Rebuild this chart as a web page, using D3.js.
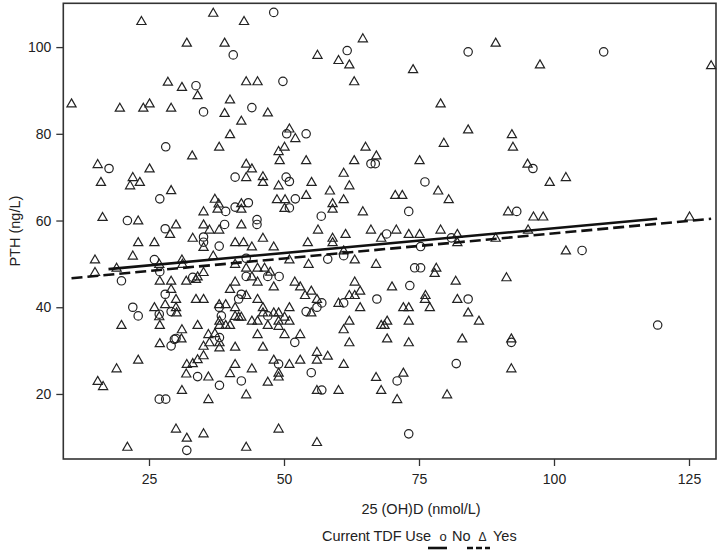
<!DOCTYPE html>
<html><head><meta charset="utf-8">
<script src="https://cdn.jsdelivr.net/npm/d3@7"></script>
<style>
body{margin:0;background:#fff;}
text{font-family:"Liberation Sans",Arial,Helvetica,sans-serif;fill:#222;}
</style></head>
<body><svg id="c" width="720" height="554"></svg>
<script>
const xTicks=[25,50,75,100,125];
const yTicks=[20,40,60,80,100];
const xDomain=[9.13,130.0];
const yDomain=[5.0,110.1];
const xTitle="25 (OH)D (nmol/L)";
const yTitle="PTH (ng/L)";
const legendTitle="Current TDF Use";
const seriesNames=["No","Yes"];
// Current TDF use = No (circles)
const noPoints=[[33.7,91.1],[35.1,85.05],[28.1,77.0],[17.6,72.0],[27.0,65.0],[39.2,62.1],[21.0,60.0],[39.0,59.1],[28.0,58.1],[35.1,56.2],[35.1,55.0],[38.0,54.1],
[48.1,108.0],[40.6,98.2],[61.7,99.2],[49.8,92.1],[44.05,86.05],[50.5,80.0],[54.1,80.0],[66.1,73.1],[66.9,73.1],[40.95,70.0],[50.4,70.0],[51.0,69.0],[52.1,65.0],[40.95,63.1],[43.4,64.1],[51.0,62.9],[45.0,60.2],[45.0,59.1],[56.9,61.0],[69.0,56.9],
[84.1,98.9],[96.1,72.0],[76.1,68.9],[73.1,62.1],[93.1,62.1],[81.0,56.0],[75.3,54.0],
[109.2,98.9],
[26.0,51.0],[19.9,46.1],[27.0,48.2],[33.1,46.9],[28.0,43.0],[22.0,40.0],[23.0,38.0],[26.9,38.4],[29.1,39.0],[38.0,40.0],[38.4,38.0],[30.0,32.8],[29.7,32.6],[38.05,33.0],[29.1,31.1],[34.0,24.0],[38.05,22.0],[26.9,18.8],[28.1,18.8],[32.0,7.0],
[43.0,51.3],[58.1,51.1],[61.05,51.9],[43.0,47.1],[47.0,47.1],[49.1,47.1],[57.0,41.0],[56.1,40.0],[54.1,39.0],[42.1,43.0],[41.6,41.9],[47.0,38.0],[52.0,31.9],[61.05,41.0],[67.2,41.9],[49.0,26.9],[42.1,23.0],[55.05,24.9],[57.0,20.9],
[74.2,49.1],[75.3,49.1],[73.3,45.0],[84.1,41.9],[92.1,31.9],[81.9,27.0],[70.95,23.0],[73.1,10.8],
[105.2,53.1],[119.2,35.9]];
// Current TDF use = Yes (triangles)
const yesPoints=[[36.9,107.9],[23.6,106.0],[32.0,101.0],[39.0,101.0],[28.5,92.0],[31.1,90.8],[34.0,88.9],[10.65,87.0],[19.6,86.0],[23.95,86.0],[25.1,87.0],[29.1,86.0],[39.0,84.8],[38.0,77.0],[33.0,75.0],[15.5,73.0],[25.1,72.0],[16.1,68.9],[22.0,70.0],[21.5,68.1],[23.3,68.9],[29.1,67.0],[37.2,65.0],[37.9,63.9],[37.7,62.7],[35.1,62.1],[16.4,60.8],[23.0,60.0],[35.1,59.1],[30.0,59.1],[28.9,56.9],[36.2,57.9],[38.0,57.9],[23.0,55.0],[26.0,55.0],[33.1,56.0],[35.1,53.9],
[42.6,106.0],[64.6,102.0],[56.2,98.2],[60.1,97.0],[62.1,96.0],[43.0,92.1],[45.1,92.1],[63.0,92.1],[40.0,87.9],[47.0,84.9],[42.1,83.0],[40.0,79.9],[51.0,81.2],[52.1,79.0],[49.0,76.0],[50.1,77.0],[49.2,73.9],[54.1,73.9],[65.1,77.0],[67.1,75.0],[63.0,73.9],[43.0,73.1],[44.05,72.0],[43.0,70.0],[46.1,70.2],[46.1,68.9],[49.0,68.1],[55.1,68.9],[61.05,71.0],[62.1,68.1],[58.5,66.9],[54.1,65.9],[48.7,64.9],[50.2,64.9],[61.05,64.9],[59.0,64.0],[59.0,62.7],[42.1,64.0],[42.1,62.7],[50.1,62.9],[42.1,59.1],[64.6,62.1],[56.3,57.9],[61.4,56.9],[66.1,57.9],[68.0,56.0],[46.1,56.0],[40.95,55.0],[42.5,55.0],[44.05,54.0],[48.1,54.0],[54.4,55.0],[59.0,56.0],[59.0,55.0],
[89.2,101.0],[73.9,94.9],[97.4,96.0],[79.0,87.0],[84.1,81.0],[92.2,79.9],[92.4,77.0],[79.6,77.9],[75.1,73.9],[95.1,73.1],[99.2,68.9],[78.55,66.9],[80.5,64.9],[70.6,65.9],[71.9,65.9],[91.5,62.1],[96.2,60.9],[98.0,60.9],[70.8,57.9],[73.1,56.9],[75.1,56.9],[79.0,57.9],[82.1,56.9],[82.1,55.0],[89.2,56.0],[95.2,57.9],
[129.1,95.8],[102.2,70.0],[125.1,60.9],
[15.0,51.0],[22.0,51.9],[26.9,50.0],[31.1,51.0],[31.2,50.0],[36.9,51.9],[15.0,48.1],[19.0,49.1],[27.0,46.1],[29.1,46.1],[31.9,46.1],[33.7,46.5],[34.0,47.1],[35.1,48.1],[29.1,44.2],[30.0,41.9],[33.7,41.9],[35.1,41.9],[26.0,40.0],[28.0,40.7],[26.9,37.9],[30.0,40.0],[30.1,38.8],[38.0,40.7],[39.2,40.7],[19.9,35.9],[27.0,35.9],[34.0,35.9],[38.05,36.9],[38.05,35.9],[39.2,35.9],[31.1,34.9],[36.0,33.8],[37.2,34.0],[31.0,32.8],[38.05,31.9],[27.0,31.7],[35.1,31.1],[36.2,31.9],[38.05,30.7],[35.1,28.9],[34.0,28.0],[23.0,27.9],[32.0,26.9],[33.1,27.1],[19.0,25.9],[31.9,24.7],[36.0,24.0],[15.5,23.0],[16.5,21.8],[31.1,20.9],[36.0,18.8],[30.0,12.0],[32.0,9.9],[35.1,10.9],[21.0,7.8],
[61.05,53.1],[63.1,51.0],[67.05,50.0],[54.55,50.0],[51.0,51.0],[40.95,50.0],[43.0,49.1],[45.1,49.1],[46.4,49.1],[47.45,48.2],[44.05,47.1],[45.1,45.9],[40.95,45.9],[40.0,44.2],[48.1,44.8],[52.0,45.9],[53.0,44.8],[55.05,43.8],[53.9,42.8],[56.1,41.9],[55.05,38.8],[43.0,42.8],[45.1,41.9],[40.95,40.0],[46.1,40.0],[51.0,40.0],[46.1,38.8],[48.1,38.8],[49.0,38.8],[50.1,37.8],[51.0,36.9],[40.95,38.0],[41.6,37.8],[42.1,37.8],[44.05,36.9],[45.1,36.9],[47.0,35.9],[49.0,36.9],[49.0,35.7],[40.0,35.9],[50.1,33.8],[53.0,33.8],[45.1,33.8],[46.1,30.9],[40.95,30.9],[60.1,41.0],[62.1,42.8],[63.1,42.8],[64.1,43.8],[63.1,45.9],[64.1,40.0],[70.0,44.8],[62.1,36.9],[61.05,34.9],[62.1,31.9],[68.0,35.9],[68.6,35.9],[69.1,36.9],[69.1,32.8],[56.1,29.7],[58.1,28.8],[56.1,27.9],[53.0,27.9],[51.0,26.9],[48.1,27.9],[49.0,24.9],[49.0,24.0],[47.0,22.8],[44.05,25.9],[40.95,26.9],[40.0,24.8],[43.0,19.9],[61.05,26.9],[56.1,20.9],[60.1,20.9],[67.05,23.9],[68.0,20.9],[49.0,12.0],[43.0,7.8],[56.1,8.9],
[78.2,49.1],[77.9,47.9],[91.2,46.9],[81.8,46.1],[76.2,42.8],[76.1,41.9],[72.1,40.0],[73.1,40.0],[77.0,40.0],[82.1,41.9],[84.1,38.8],[86.1,36.9],[73.1,36.9],[73.1,31.9],[83.0,32.8],[92.1,32.8],[92.1,25.9],[72.1,24.9],[70.95,18.8],[80.2,19.9],
[102.2,53.1]];
// fitted regression lines (endpoints)
const fitNo=[[17.5,48.8],[119.1,60.4]];
const fitYes=[[10.65,46.7],[129.1,60.4]];

const svg=d3.select("#c");
svg.append("rect").attr("width",720).attr("height",554).attr("fill","#fff");
const m={l:63.3,r:716,t:3.3,b:459};
const x=d3.scaleLinear().domain(xDomain).range([m.l,m.r]);
const y=d3.scaleLinear().domain(yDomain).range([m.b,m.t]);
const FONT="'Liberation Sans',Arial,sans-serif";

const gx=svg.append("g").attr("transform",`translate(0,${m.b})`)
 .call(d3.axisBottom(x).tickValues(xTicks).tickSize(7).tickPadding(8).tickFormat(d3.format("d")));
const gy=svg.append("g").attr("transform",`translate(${m.l},0)`)
 .call(d3.axisLeft(y).tickValues(yTicks).tickSize(7).tickPadding(5).tickFormat(d3.format("d")));
[gx,gy].forEach(g=>{g.select(".domain").remove();
 g.selectAll(".tick line").attr("stroke","#333").attr("stroke-width",1.3);
 g.selectAll(".tick text").attr("font-size",14).attr("fill","#222").attr("font-family",FONT);});

svg.append("rect").attr("x",m.l).attr("y",m.t).attr("width",m.r-m.l).attr("height",m.b-m.t)
 .attr("fill","none").attr("stroke","#333").attr("stroke-width",1.6);

const plot=svg.append("g");
plot.selectAll("circle.no").data(noPoints).join("circle").attr("class","no")
 .attr("cx",d=>x(d[0])).attr("cy",d=>y(d[1])).attr("r",4.2)
 .attr("fill","none").attr("stroke","#222").attr("stroke-width",1.2);
const tri="M0,-4.6L4.6,3.4L-4.6,3.4Z";
plot.selectAll("path.yes").data(yesPoints).join("path").attr("class","yes")
 .attr("d",tri).attr("transform",d=>`translate(${x(d[0])},${y(d[1])})`)
 .attr("fill","none").attr("stroke","#222").attr("stroke-width",1.2);

const line=d3.line().x(d=>x(d[0])).y(d=>y(d[1]));
plot.append("path").datum(fitNo).attr("d",line).attr("stroke","#111").attr("stroke-width",2.6).attr("fill","none");
plot.append("path").datum(fitYes).attr("d",line).attr("stroke","#111").attr("stroke-width",2.6)
 .attr("stroke-dasharray","11,5").attr("fill","none");

svg.append("text").attr("x",421).attr("y",514).attr("text-anchor","middle").attr("font-size",14.5).text(xTitle);
svg.append("text").attr("transform",`translate(20,${(m.t+m.b)/2}) rotate(-90)`).attr("text-anchor","middle").attr("font-size",14.5).text(yTitle);

// legend
const lg=svg.append("g");
lg.append("text").attr("x",322).attr("y",541).attr("font-size",14.5).attr("textLength",109).text(legendTitle);
lg.append("text").attr("x",443).attr("y",541).attr("text-anchor","middle").attr("font-size",13).text("o");
lg.append("text").attr("x",452).attr("y",541).attr("font-size",14.5).text(seriesNames[0]);
lg.append("text").attr("x",482.5).attr("y",541).attr("text-anchor","middle").attr("font-size",12).attr("font-family","'Liberation Serif',serif").text("\u0394");
lg.append("text").attr("x",493).attr("y",541).attr("font-size",14.5).text(seriesNames[1]);
lg.append("line").attr("x1",428).attr("x2",447).attr("y1",548).attr("y2",548).attr("stroke","#111").attr("stroke-width",2.6);
lg.append("line").attr("x1",467).attr("x2",490).attr("y1",548).attr("y2",548).attr("stroke","#111").attr("stroke-width",2.6).attr("stroke-dasharray","6,3");
</script></body></html>
